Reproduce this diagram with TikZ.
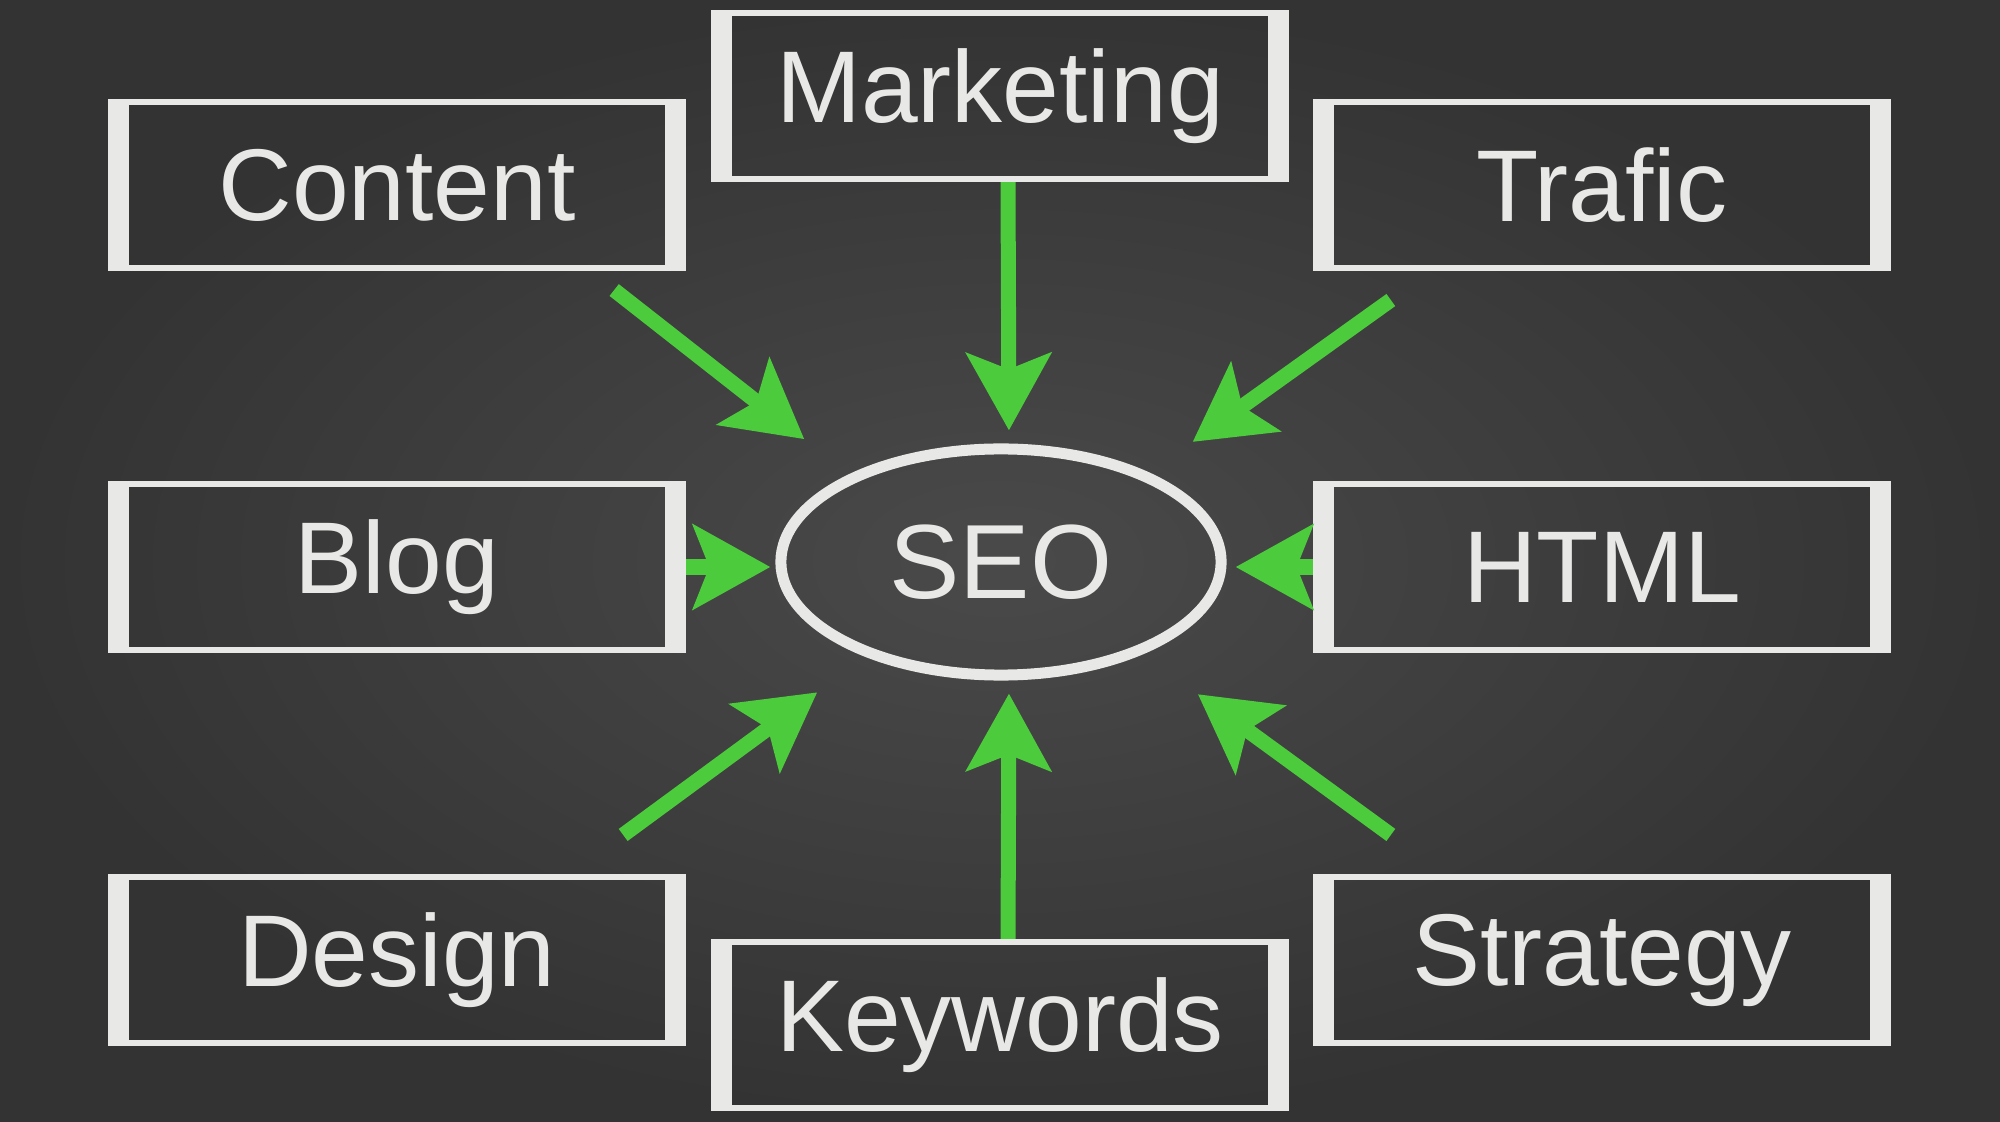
\documentclass[tikz,border=0pt]{standalone}
\usepackage{fontspec}
\setmainfont{Liberation Sans}
\usepackage{xcolor}
\usepackage{tikz}
\usetikzlibrary{shapes,arrows.meta,positioning,calc}

\definecolor{board}{HTML}{3A3A3A}
\definecolor{chalk}{HTML}{E8E8E6}
\definecolor{chalkgreen}{HTML}{4CCB3C}

\tikzset{
    topic/.style={draw=chalk, line width=0.06cm, rectangle, minimum width=5.72cm,
        minimum height=1.66cm, text=chalk, font=\fontsize{29}{34}\selectfont},
    hub/.style={draw=chalk, line width=0.11cm, ellipse, minimum width=4.4cm,
        minimum height=2.26cm, inner sep=0pt, text=chalk, font=\fontsize{30}{34}\selectfont},
    arr/.style={draw=chalkgreen, line width=0.15cm,
        -{Stealth[length=0.77cm, width=0.84cm, inset=0.16cm, fill=chalkgreen]}},
}

\begin{document}
\begin{tikzpicture}[x=0.01cm, y=-0.01cm]
    \useasboundingbox (0,0) rectangle (2000,1122);
    % Board
    \shade[inner color=board!92!white, outer color=board!88!black] (0,0) rectangle (2000,1122);

    % Hub
    \node[hub] (seo) at (1001,562) {SEO};

    % Topic boxes
    \node[topic] (content) at (397,185) {Content};
    \node[topic] (marketing) at (1000,96) {Marketing};
    \node[topic] (trafic) at (1602,185) {Trafic};
    \node[topic] (blog) at (397,567) {Blog};
    \node[topic] (html) at (1602,567) {HTML};
    \node[topic] (design) at (397,960) {Design};
    \node[topic] (keywords) at (1000,1025) {Keywords};
    \node[topic] (strategy) at (1602,960) {Strategy};

    % Thick chalk sides of the boxes
    \foreach \n in {content,marketing,trafic,blog,html,design,keywords,strategy} {
        \fill[chalk] (\n.north west) rectangle ([xshift=0.21cm]\n.south west);
        \fill[chalk] ([xshift=-0.21cm]\n.north east) rectangle (\n.south east);
    }

    % Arrows into the hub
    \draw[arr, shorten >=0.57cm] ([shift={(-72,19)}]content.south east) -- (seo.150);
    \draw[arr, shorten >=0.13cm] ([xshift=0.08cm]marketing.south) -- ([xshift=0.08cm]seo.north);
    \draw[arr, shorten >=0.53cm] ([shift={(78,29)}]trafic.south west) -- (seo.31);
    \draw[arr, shorten >=0.05cm] (blog.east) -- (blog.east -| seo.west);
    \draw[arr, shorten >=0.09cm] (html.west) -- (html.west -| seo.east);
    \draw[arr, shorten >=0.6cm] ([shift={(-63,-39)}]design.north east) -- (seo.215);
    \draw[arr, shorten >=0.13cm] ([xshift=0.08cm]keywords.north) -- ([xshift=0.08cm]seo.south);
    \draw[arr, shorten >=0.68cm] ([shift={(78,-39)}]strategy.north west) -- (seo.-33);
\end{tikzpicture}
\end{document}
